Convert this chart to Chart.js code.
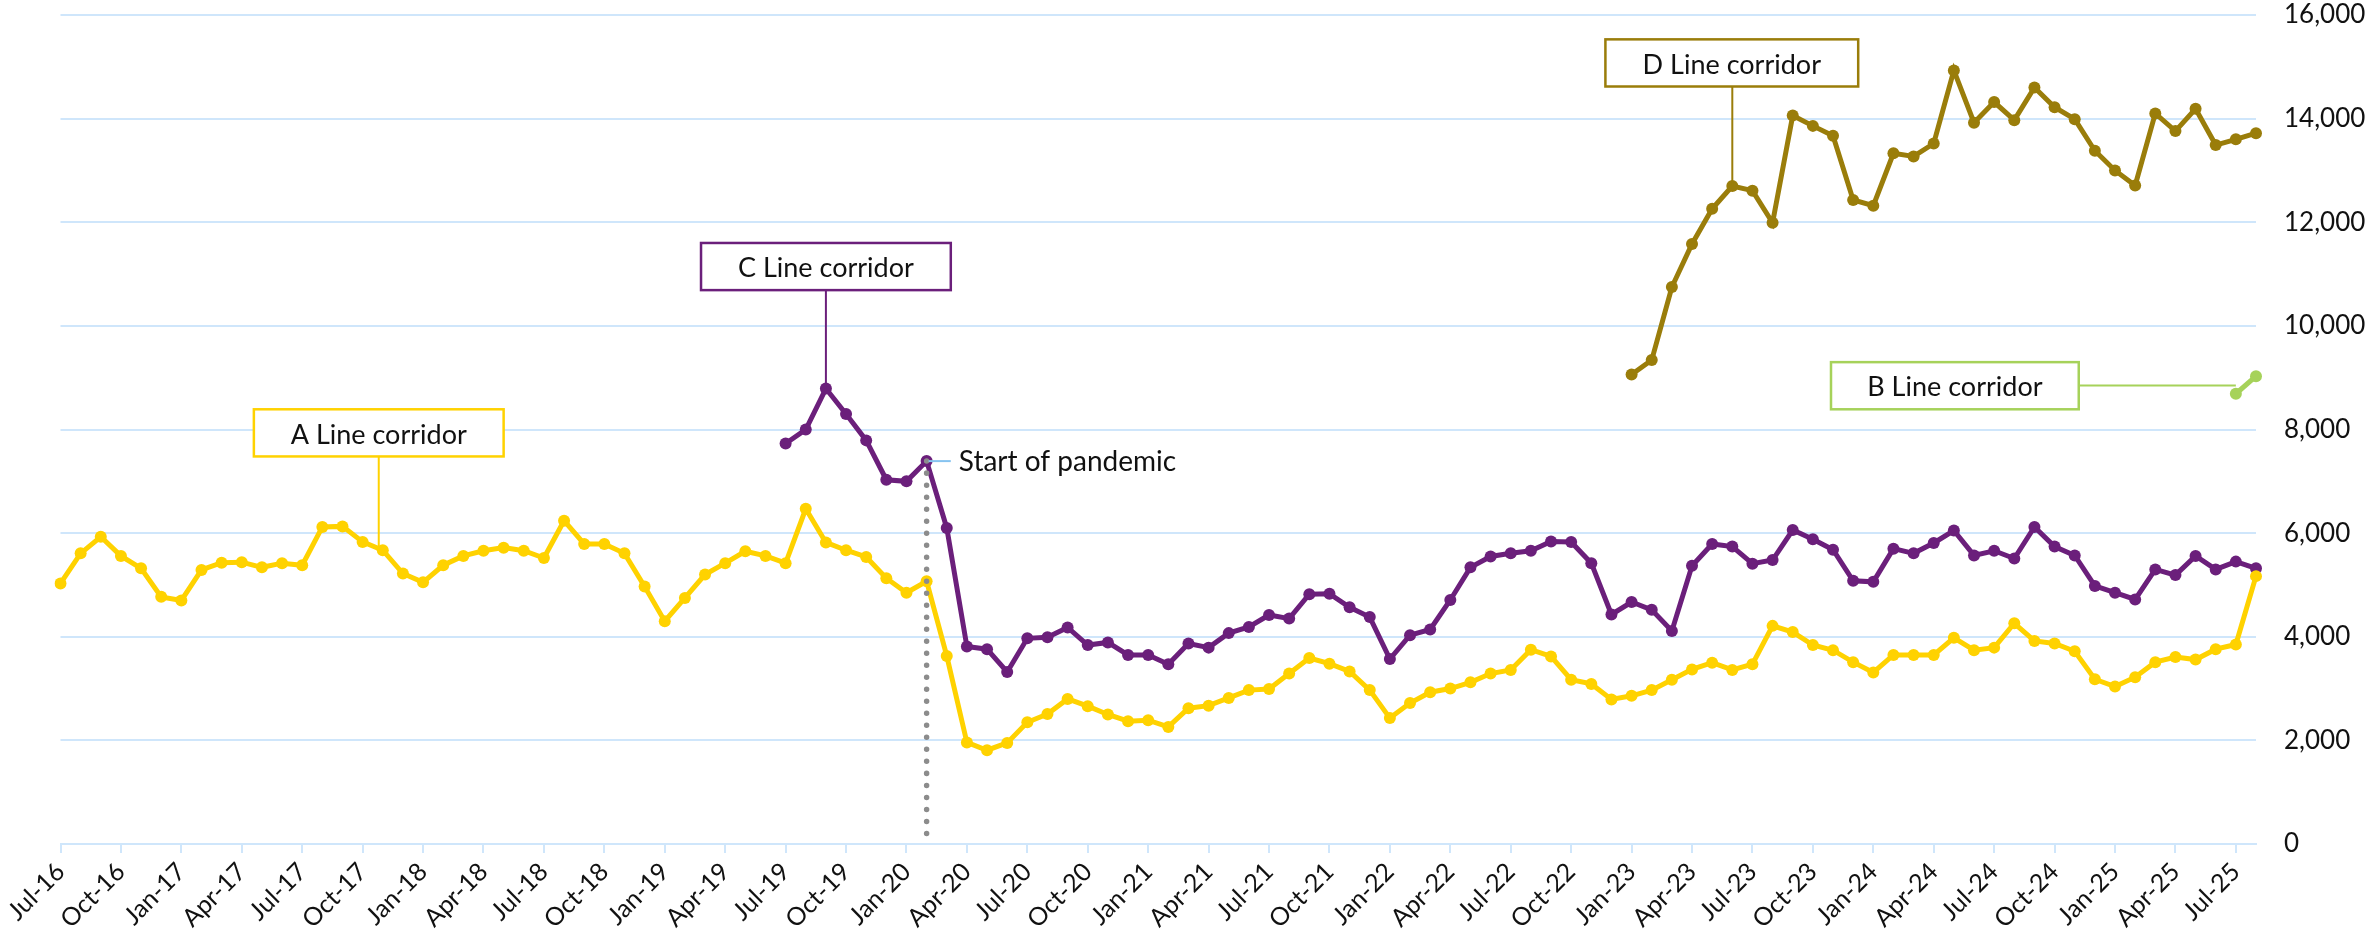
<!DOCTYPE html>
<html><head><meta charset="utf-8">
<script src="https://cdn.jsdelivr.net/npm/chart.js@4.4.1/dist/chart.umd.min.js"></script>
<style>html,body{margin:0;padding:0;background:#fff;} canvas{display:block;}</style>
</head><body>
<canvas id="c" width="2374" height="947"></canvas>
<script>
// ---- categories (monthly, Jul-16 .. Aug-25) ----
const months = [
 'Jul-16','Aug-16','Sep-16','Oct-16','Nov-16','Dec-16',
 'Jan-17','Feb-17','Mar-17','Apr-17','May-17','Jun-17','Jul-17','Aug-17','Sep-17','Oct-17','Nov-17','Dec-17',
 'Jan-18','Feb-18','Mar-18','Apr-18','May-18','Jun-18','Jul-18','Aug-18','Sep-18','Oct-18','Nov-18','Dec-18',
 'Jan-19','Feb-19','Mar-19','Apr-19','May-19','Jun-19','Jul-19','Aug-19','Sep-19','Oct-19','Nov-19','Dec-19',
 'Jan-20','Feb-20','Mar-20','Apr-20','May-20','Jun-20','Jul-20','Aug-20','Sep-20','Oct-20','Nov-20','Dec-20',
 'Jan-21','Feb-21','Mar-21','Apr-21','May-21','Jun-21','Jul-21','Aug-21','Sep-21','Oct-21','Nov-21','Dec-21',
 'Jan-22','Feb-22','Mar-22','Apr-22','May-22','Jun-22','Jul-22','Aug-22','Sep-22','Oct-22','Nov-22','Dec-22',
 'Jan-23','Feb-23','Mar-23','Apr-23','May-23','Jun-23','Jul-23','Aug-23','Sep-23','Oct-23','Nov-23','Dec-23',
 'Jan-24','Feb-24','Mar-24','Apr-24','May-24','Jun-24','Jul-24','Aug-24','Sep-24','Oct-24','Nov-24','Dec-24',
 'Jan-25','Feb-25','Mar-25','Apr-25','May-25','Jun-25','Jul-25','Aug-25'
];
// labelled ticks (every third month)
const tickLabels = months.filter((m, i) => i % 3 === 0);

// ---- series values ----
const aLine = [
 5030,5610,5930,5560,5320,4770,
 4700,5290,5430,5440,5340,5420,5380,6120,6130,5830,5670,5220,
 5050,5380,5560,5660,5720,5660,5520,6240,5790,5790,5610,4970,
 4300,4750,5200,5420,5650,5560,5420,6470,5820,5670,5540,5130,
 4850,5070,3630,1960,1810,1950,2350,2510,2800,2660,2500,2370,
 2390,2260,2620,2670,2820,2970,2990,3290,3590,3480,3330,2970,
 2430,2720,2930,3000,3120,3290,3360,3750,3620,3170,3090,2790,
 2860,2970,3170,3370,3500,3360,3470,4210,4090,3840,3740,3510,
 3310,3650,3650,3650,3980,3740,3790,4260,3920,3870,3720,3180,
 3040,3220,3510,3610,3560,3760,3850,5170
];
const cStart = 'Jul-19';
const cLine = [
 7730,8000,8790,8300,7790,7030,
 7000,7390,6100,3810,3760,3320,3970,3990,4180,3840,3890,3650,
 3650,3470,3870,3790,4070,4190,4420,4350,4820,4830,4570,4380,
 3570,4030,4140,4710,5340,5550,5610,5660,5840,5830,5420,4430,
 4670,4520,4110,5370,5790,5740,5410,5480,6060,5880,5680,5080,
 5060,5700,5610,5810,6050,5570,5660,5510,6120,5740,5570,4980,
 4850,4720,5300,5190,5560,5300,5450,5320
];
const dStart = 'Jan-23';
const dLine = [
 9060,9340,10750,11580,12260,12700,12610,11990,14060,13860,13670,12430,
 12320,13330,13270,13520,14930,13920,14320,13970,14600,14220,13990,13380,
 13000,12710,14100,13760,14190,13490,13600,13720
];
const bStart = 'Jul-25';
const bLine = [8690, 9030];
const pandemicMonth = 'Feb-20';
const yMin = 0, yMax = 16000, yStep = 2000;

// ---- styles ----
const YELLOW = '#FFD200', PURPLE = '#6B1F7B', OLIVE = '#9A7D0A', GREEN = '#A6D25A';
const GRID = '#CFE6FB', TEXT = '#111111';
const FONT = 'Lato';

function padSeries(start, vals) {
  const s = months.indexOf(start);
  return months.map((m, i) => (i >= s && i - s < vals.length) ? vals[i - s] : null);
}
const aData = aLine.slice();
const cData = padSeries(cStart, cLine);
const dData = padSeries(dStart, dLine);
const bData = padSeries(bStart, bLine);

function ds(label, data, color) {
  return { label, data, borderColor: color, backgroundColor: color,
    borderWidth: 5, pointRadius: 6, pointBorderWidth: 0, pointBackgroundColor: color,
    pointHoverRadius: 6, tension: 0, spanGaps: false, fill: false };
}

// callout boxes (placement in month-index / value units)
const callouts = [
  { text: 'A Line corridor', color: YELLOW, x0: 9.6, x1: 22.0, top: 8390, bottom: 7480, link: 'down', at: 15.8, series: aData },
  { text: 'C Line corridor', color: PURPLE, x0: 31.8, x1: 44.2, top: 11600, bottom: 10690, link: 'down', at: 38, series: cData },
  { text: 'D Line corridor', color: OLIVE, x0: 76.7, x1: 89.25, top: 15530, bottom: 14620, link: 'down', at: 83, series: dData },
  { text: 'B Line corridor', color: GREEN, x0: 87.9, x1: 100.2, top: 9300, bottom: 8390, link: 'right', at: 108, level: 8850 }
];

function seriesAt(series, idx) {
  const i0 = Math.floor(idx), i1 = Math.ceil(idx);
  if (i0 === i1) return series[i0];
  const t = idx - i0;
  return series[i0] * (1 - t) + series[i1] * t;
}

const annotPlugin = {
  id: 'annot',
  afterDatasetsDraw(chart) {
    const { ctx, scales: { x, y } } = chart;
    ctx.save();
    // pandemic dotted line
    const pi = months.indexOf(pandemicMonth);
    const pv = cData[pi];
    const pxp = x.getPixelForValue(pi), pyp = y.getPixelForValue(pv);
    ctx.beginPath();
    ctx.setLineDash([0.01, 12]);
    ctx.lineCap = 'round';
    ctx.lineWidth = 5.5;
    ctx.strokeStyle = '#8C8C8C';
    ctx.moveTo(pxp, pyp);
    ctx.lineTo(pxp, y.getPixelForValue(0));
    ctx.stroke();
    ctx.setLineDash([]);
    ctx.lineCap = 'butt';
    // pandemic connector + label
    ctx.beginPath();
    ctx.strokeStyle = '#86C3F0';
    ctx.lineWidth = 2;
    ctx.moveTo(pxp + 2, pyp);
    ctx.lineTo(x.getPixelForValue(pi + 1.2), pyp);
    ctx.stroke();
    ctx.fillStyle = TEXT;
    ctx.font = '28px ' + FONT;
    ctx.textAlign = 'left';
    ctx.textBaseline = 'middle';
    ctx.fillText('Start of pandemic', x.getPixelForValue(pi + 1.6), pyp + 1);

    // callouts
    for (const c of callouts) {
      const l = x.getPixelForValue(c.x0), r = x.getPixelForValue(c.x1);
      const t = y.getPixelForValue(c.top), b = y.getPixelForValue(c.bottom);
      ctx.strokeStyle = c.color;
      ctx.lineWidth = 2;
      ctx.beginPath();
      if (c.link === 'down') {
        const lx = x.getPixelForValue(c.at);
        ctx.moveTo(lx, b);
        ctx.lineTo(lx, y.getPixelForValue(seriesAt(c.series, c.at)));
      } else {
        const ly = y.getPixelForValue(c.level);
        ctx.moveTo(r, ly);
        ctx.lineTo(x.getPixelForValue(c.at), ly);
      }
      ctx.stroke();
      ctx.fillStyle = '#ffffff';
      ctx.fillRect(l, t, r - l, b - t);
      ctx.lineWidth = 2.5;
      ctx.strokeRect(l, t, r - l, b - t);
      ctx.fillStyle = TEXT;
      ctx.font = '27px ' + FONT;
      ctx.textAlign = 'center';
      ctx.textBaseline = 'middle';
      ctx.fillText(c.text, (l + r) / 2, (t + b) / 2 + 2);
    }
    ctx.restore();
  }
};

new Chart(document.getElementById('c'), {
  type: 'line',
  data: {
    labels: months,
    datasets: [
      ds('A Line corridor', aData, YELLOW),
      ds('C Line corridor', cData, PURPLE),
      ds('D Line corridor', dData, OLIVE),
      ds('B Line corridor', bData, GREEN)
    ]
  },
  options: {
    responsive: false,
    animation: false,
    devicePixelRatio: 1,
    layout: { padding: { top: 15, left: 60.5, right: 0, bottom: 0 } },
    plugins: { legend: { display: false }, tooltip: { enabled: false } },
    events: [],
    scales: {
      x: {
        type: 'category',
        offset: false,
        afterFit(s) { s.height = 103; },
        grid: { drawOnChartArea: false, drawTicks: true, tickLength: 9, color: GRID, lineWidth: 2 },
        border: { display: true, color: GRID, width: 2 },
        ticks: {
          autoSkip: false, maxRotation: 45, minRotation: 45, padding: 4,
          color: TEXT, font: { family: FONT, size: 25 },
          callback(v, i) { return tickLabels.includes(months[i]) ? months[i] : null; }
        }
      },
      y: {
        position: 'right',
        min: yMin, max: yMax,
        afterFit(s) { s.width = 118; s.paddingTop = 0; s.paddingBottom = 0; },
        grid: { drawTicks: false, color: GRID, lineWidth: 2 },
        border: { display: false },
        ticks: {
          stepSize: yStep, padding: 28, color: TEXT,
          font: { family: FONT, size: 26 },
          callback(v) { return v.toLocaleString('en-US'); }
        }
      }
    }
  },
  plugins: [annotPlugin]
});
</script>
</body></html>
